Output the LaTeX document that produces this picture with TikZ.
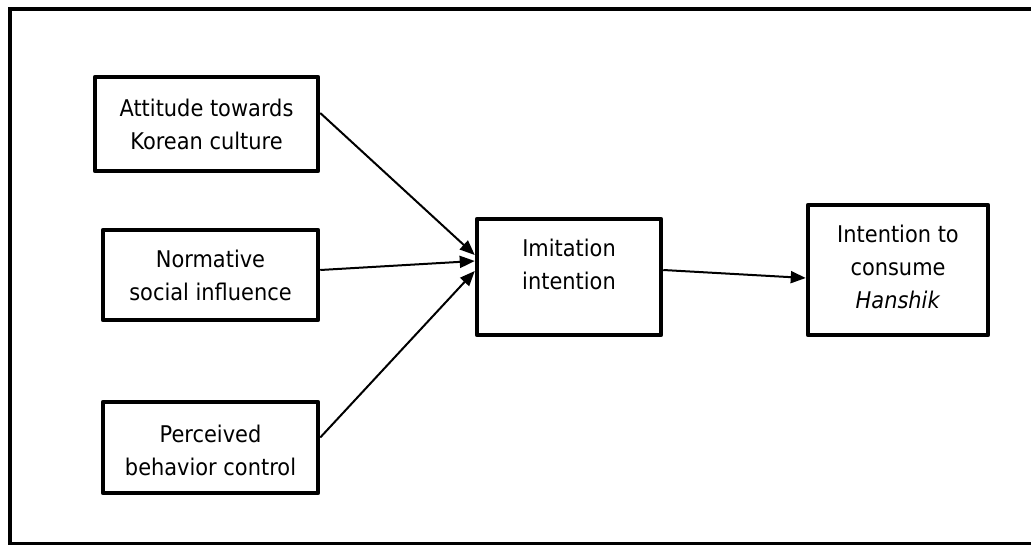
\documentclass[tikz,border=0pt]{standalone}
\usepackage{fontspec}
\setmainfont{DejaVu Sans}[FakeStretch=0.91]
\usetikzlibrary{arrows.meta,calc}
\tikzset{
  box/.style={draw=black, line width=4.5pt, line join=round, fill=white, inner sep=0pt},
  txt/.style={align=center, font=\fontsize{23}{33}\selectfont, inner sep=0pt},
  arr/.style={line width=2pt, -{Triangle[length=15pt,width=12pt]}},
  frame/.style={draw=black, line width=4.5pt}
}
\begin{document}
\begin{tikzpicture}[x=1pt,y=-1pt]
\useasboundingbox (0,0) rectangle (1031,544);
\begin{scope}
\clip (0,0) rectangle (1031,544);
\node[frame, minimum width=1040pt, minimum height=535.5pt, inner sep=0pt] (frm) at (530,276.75) {};
\end{scope}
% boxes
\node[box, minimum width=223pt, minimum height=94pt] (att) at (206.5,124) {};
\node[txt] (attT) at (206.5,124) {Attitude towards\\Korean culture};
\node[box, minimum width=215pt, minimum height=90pt] (nor) at (210.5,275) {};
\node[txt] (norT) at (210.5,275) {Normative\\social influence};
\node[box, minimum width=215pt, minimum height=91pt] (per) at (210.5,447.5) {};
\node[txt] (perT) at (210.5,450) {Perceived\\behavior control};
\node[box, minimum width=184pt, minimum height=116pt] (imi) at (569,277) {};
\node[txt] (imiT) at (569,264) {Imitation\\intention};
\node[box, minimum width=180pt, minimum height=130pt] (han) at (898,270) {};
\node[txt] (hanT) at (898,267) {Intention to\\consume\\\textit{Hanshik}};
% arrows
\draw[arr] ($(att.east)+(0,-11)$) -- ($(imi.west)+(0,-22)$);
\draw[arr] ($(nor.east)+(0,-5)$) -- ($(imi.west)+(0,-16)$);
\draw[arr] ($(per.east)+(0,-10)$) -- ($(imi.west)+(0,-6)$);
\draw[arr] ($(imi.east)+(0,-7)$) -- ($(han.west)+(0,8)$);
\end{tikzpicture}
\end{document}
